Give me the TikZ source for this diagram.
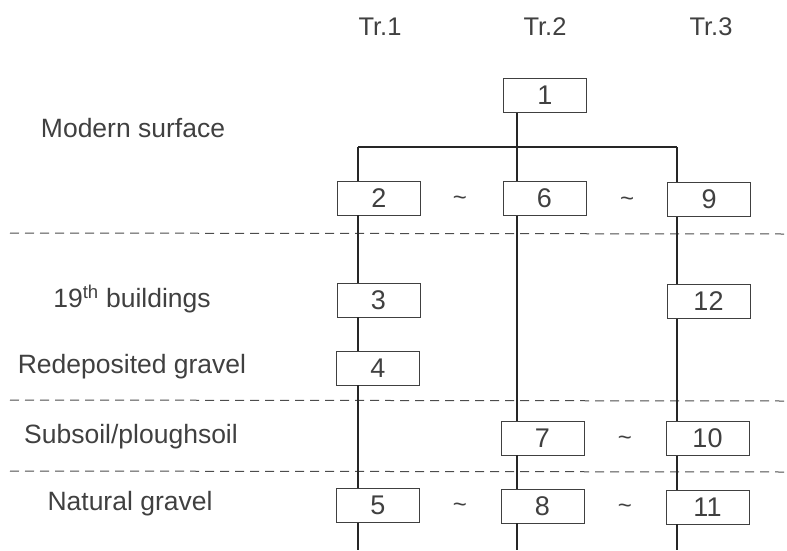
\documentclass[tikz,border=0pt]{standalone}
\usepackage{fontspec}
\setmainfont{Liberation Sans}
\begin{document}
\begin{tikzpicture}[x=1pt,y=-1pt,
  box/.style={draw=black!75,line width=0.9pt,fill=white,minimum width=83pt,minimum height=34pt,inner sep=0pt,font=\fontsize{27}{27}\selectfont,text=black!75},
  col/.style={font=\fontsize{25.5}{25.5}\selectfont,text=black!75},
  lbl/.style={font=\fontsize{26.5}{26.5}\selectfont,text=black!75},
  eqv/.style={font=\fontsize{24}{24}\selectfont,text=black!75},
  link/.style={line width=1.1pt,black!85},
  sep/.style={line width=1pt,black!70,dash pattern=on 9pt off 6pt}]
\useasboundingbox (0,0) rectangle (787,550);
% column titles
\node[col] (tr1) at (380,27) {Tr.1};
\node[col] (tr2) at (545,27) {Tr.2};
\node[col] (tr3) at (711,27) {Tr.3};
% layer labels
\node[lbl] (lmod) at (133,128) {Modern surface};
\node[lbl] (l19) at (132,299) {19\textsuperscript{th} buildings};
\node[lbl] (lred) at (132,367) {Redeposited gravel};
\node[lbl] (lsub) at (131,437) {Subsoil/ploughsoil};
\node[lbl] (lnat) at (130,504) {Natural gravel};
% separators
\coordinate (s1a) at (10,233); \coordinate (s1b) at (787,234);
\coordinate (s2a) at (10,400); \coordinate (s2b) at (787,401);
\coordinate (s3a) at (10,471); \coordinate (s3b) at (787,472);
\draw[sep] (s1a) -- (s1b);
\draw[sep] (s2a) -- (s2b);
\draw[sep] (s3a) -- (s3b);
% column lines anchor coordinates
\coordinate (k1) at (358,147);
\coordinate (k2) at (517,147);
\coordinate (k3) at (677,147);
\coordinate (e1) at (358,550);
\coordinate (e2) at (517,550);
\coordinate (e3) at (677,550);
% boxes
\node[box] (b1) at (545,95.5) {1};
\node[box] (b2) at (379,198) {2};
\node[box] (b6) at (544.5,198.5) {6};
\node[box] (b9) at (709,199.5) {9};
\node[box] (b3) at (378.5,300) {3};
\node[box] (b12) at (708.5,301.5) {12};
\node[box] (b4) at (378,368) {4};
\node[box] (b7) at (542.5,438) {7};
\node[box] (b10) at (707.5,438.5) {10};
\node[box] (b5) at (378,505.5) {5};
\node[box] (b8) at (542.5,506) {8};
\node[box] (b11) at (707.5,507) {11};
% connectors
\draw[link] (k1) -- (k3);
\draw[link] (b1.south -| k2) -- (b6.north -| k2);
\draw[link] (k1) -- (b2.north -| k1);
\draw[link] (k3) -- (b9.north -| k3);
\draw[link] (b2.south -| k1) -- (b3.north -| k1);
\draw[link] (b3.south -| k1) -- (b4.north -| k1);
\draw[link] (b4.south -| k1) -- (b5.north -| k1);
\draw[link] (b5.south -| k1) -- (e1);
\draw[link] (b6.south -| k2) -- (b7.north -| k2);
\draw[link] (b7.south -| k2) -- (b8.north -| k2);
\draw[link] (b8.south -| k2) -- (e2);
\draw[link] (b9.south -| k3) -- (b12.north -| k3);
\draw[link] (b12.south -| k3) -- (b10.north -| k3);
\draw[link] (b10.south -| k3) -- (b11.north -| k3);
\draw[link] (b11.south -| k3) -- (e3);
% equivalences
\node[eqv] (q26) at (460,201) {\textasciitilde};
\node[eqv] (q69) at (627,202) {\textasciitilde};
\node[eqv] (q710) at (625,441) {\textasciitilde};
\node[eqv] (q58) at (460,508) {\textasciitilde};
\node[eqv] (q811) at (625,509) {\textasciitilde};
\end{tikzpicture}
\end{document}
